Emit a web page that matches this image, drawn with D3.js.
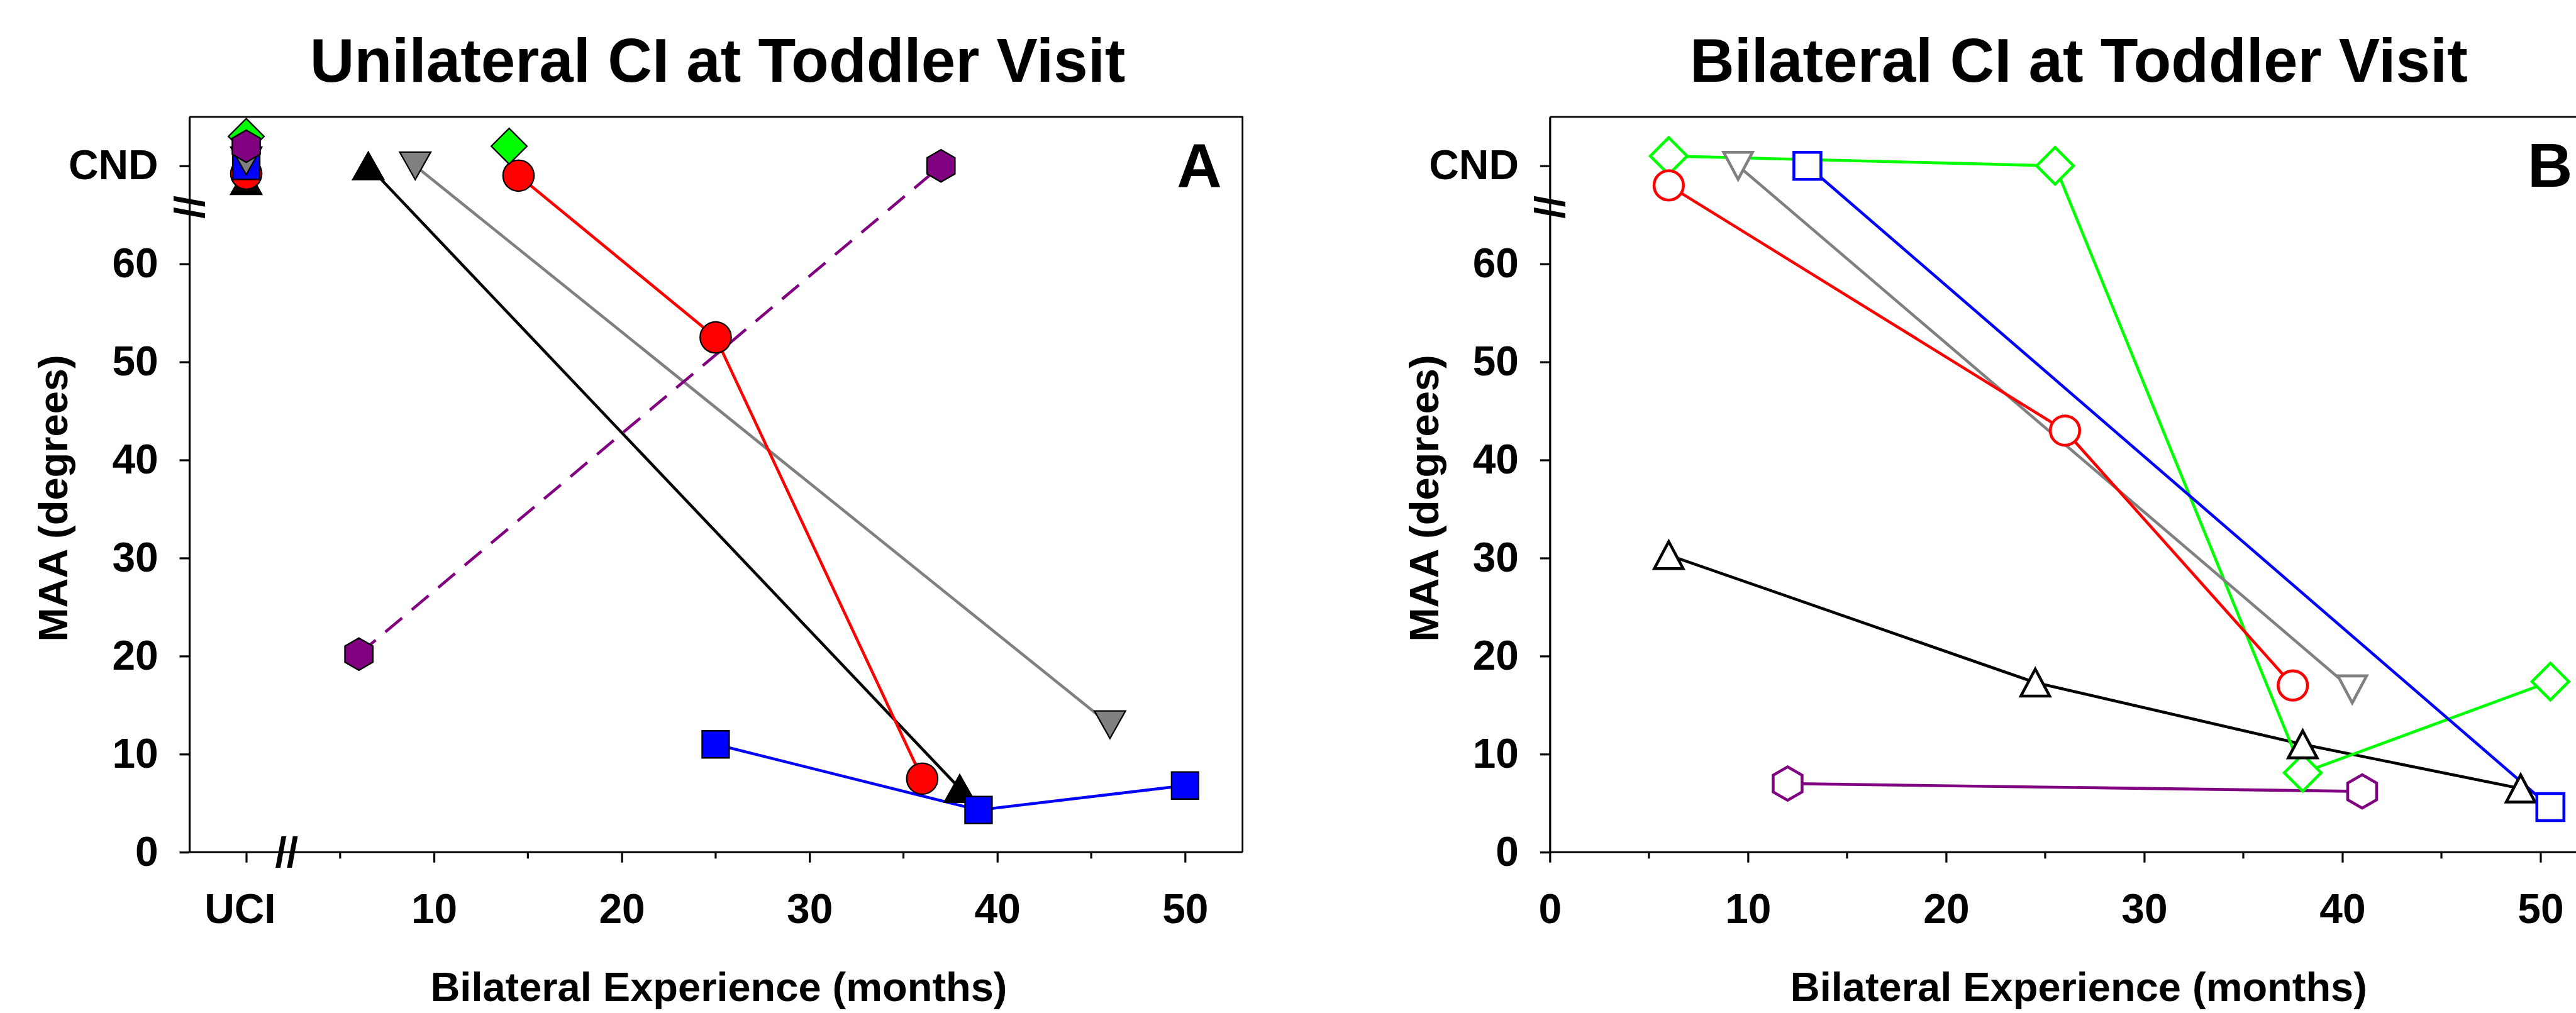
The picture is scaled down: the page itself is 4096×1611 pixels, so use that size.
<!DOCTYPE html>
<html>
<head>
<meta charset="utf-8">
<script src="https://cdn.jsdelivr.net/npm/d3@7"></script>
<style>
    body { margin: 0; background: #fff; }
    svg { display: block; }
    text { font-family: Arial, "Liberation Sans", sans-serif; font-weight: bold; fill: #000; }
</style>
</head>
<body>
<svg id="chart" width="4096" height="1611"></svg>
<script>
// y axis: 0..60 plus "CND" (could not determine), put at 70
const yTickValues = [0, 10, 20, 30, 40, 50, 60, 70];
const cndValue = 70;
const xMajorTicks = [0, 10, 20, 30, 40, 50];
const xMinorTicks = [5, 15, 25, 35, 45];

// panel A: unilateral CI at toddler visit (filled markers)
const aUciMaa = [68.5, 69.2, 70, 70.5, 73, 72]; // black, red, blue, gray, green, purple at "UCI"
const aBlackMonths = [6.5, 38];
const aBlackMaa = [70, 6.5];
const aRedMonths = [14.5, 25, 36];
const aRedMaa = [69, 52.5, 7.5];
const aBlueMonths = [25, 39, 50];
const aBlueMaa = [11, 4.3, 6.8];
const aGrayMonths = [9, 46];
const aGrayMaa = [70, 13];
const aGreenMonths = [14];
const aGreenMaa = [72];
const aPurpleMonths = [6, 37];
const aPurpleMaa = [20.2, 70];

// panel B: bilateral CI at toddler visit (open markers)
const bBlackMonths = [6, 24.5, 38, 49];
const bBlackMaa = [30.3, 17.3, 11, 6.5];
const bRedMonths = [6, 26, 37.5];
const bRedMaa = [68, 43, 17];
const bBlueMonths = [13, 50.5];
const bBlueMaa = [70, 4.6];
const bGrayMonths = [9.5, 40.5];
const bGrayMaa = [70, 16.6];
const bGreenMonths = [6, 25.5, 38, 50.5];
const bGreenMaa = [71, 70, 8.1, 17.4];
const bPurpleMonths = [12, 41];
const bPurpleMaa = [7, 6.2];

const colors = { black: '#000000', red: '#ff0000', blue: '#0000ff', gray: '#808080', green: '#00ff00', purple: '#800080' };
const shapes = { black: 'triUp', red: 'circle', blue: 'square', gray: 'triDown', green: 'diamond', purple: 'hexagon' };

// everything below is laid out in the reference's 4476x1760 pixels, then scaled
const S = 4096 / 4476;
const plotTop = 203, plotBottom = 1481;

const svg = d3.select('#chart');
const root = svg.append('g').attr('transform', `scale(${S})`);

const y = d3.scaleLinear().domain([0, 75]).range([plotBottom, plotTop]);

function markerPath(kind, size) {
    const p = d3.path();
    if (kind === 'circle') {
        p.arc(0, 0, size.r, 0, Math.PI * 2);
    } else if (kind === 'square') {
        p.rect(-size.sq / 2, -size.sq / 2, size.sq, size.sq);
    } else if (kind === 'triUp' || kind === 'triDown') {
        const s = kind === 'triUp' ? 1 : -1;
        p.moveTo(0, -s * size.th / 2);
        p.lineTo(size.tw / 2, s * size.th / 2);
        p.lineTo(-size.tw / 2, s * size.th / 2);
        p.closePath();
    } else if (kind === 'diamond') {
        p.moveTo(0, -size.d); p.lineTo(size.d, 0); p.lineTo(0, size.d); p.lineTo(-size.d, 0);
        p.closePath();
    } else if (kind === 'hexagon') {
        for (let i = 0; i < 6; i++) {
            const a = -Math.PI / 2 + i * Math.PI / 3;
            i === 0 ? p.moveTo(size.h * Math.cos(a), size.h * Math.sin(a))
                    : p.lineTo(size.h * Math.cos(a), size.h * Math.sin(a));
        }
        p.closePath();
    }
    return p.toString();
}

function drawPanel(opts) {
    const { x, x0, x1, g } = opts;

    // frame top and right
    g.append('path')
        .attr('d', `M${x0},${plotTop}H${x1}V${plotBottom}`)
        .attr('fill', 'none').attr('stroke', '#000').attr('stroke-width', 3);

    const yAxis = g.append('g')
        .attr('transform', `translate(${x0},0)`)
        .call(d3.axisLeft(y)
            .tickValues(yTickValues)
            .tickFormat(d => d === cndValue ? 'CND' : d)
            .tickSize(17).tickPadding(37).tickSizeOuter(0));

    const xAxis = g.append('g')
        .attr('transform', `translate(0,${plotBottom})`)
        .call(d3.axisBottom(x)
            .tickValues(xMajorTicks)
            .tickFormat(d => d === 0 ? opts.zeroLabel : d)
            .tickSize(18).tickPadding(54).tickSizeOuter(0));

    xAxis.selectAll('.tick')
        .filter(d => d === 0)
        .select('text')
        .attr('dx', opts.zeroDx);

    g.append('g')
        .selectAll('line')
        .data(xMinorTicks)
        .join('line')
        .attr('x1', d => x(d)).attr('x2', d => x(d))
        .attr('y1', plotBottom).attr('y2', plotBottom + 11)
        .attr('stroke', '#000').attr('stroke-width', 3.5);

    [yAxis, xAxis].forEach(ax => {
        ax.attr('font-size', null).attr('font-family', null);
        ax.selectAll('text').style('font-size', '72px');
        ax.selectAll('line, path').attr('stroke-width', 3.5);
    });
    xAxis.select('.domain').attr('d', `M${x0},0H${x1}`);

    // axis break on the y axis
    g.append('text')
        .attr('transform', `translate(${x0},${y(65.8)}) rotate(90)`)
        .attr('text-anchor', 'middle')
        .attr('dy', '0.35em')
        .style('font-size', '72px')
        .text('//');

    g.append('text')
        .attr('x', (x0 + x1) / 2 + opts.titleDx)
        .attr('y', 142)
        .attr('text-anchor', 'middle')
        .style('font-size', '107px')
        .text(opts.title);

    g.append('text')
        .attr('transform', `translate(${opts.yTitleX},866) rotate(-90)`)
        .attr('text-anchor', 'middle')
        .style('font-size', '71px')
        .text('MAA (degrees)');

    g.append('text')
        .attr('x', (x0 + x1) / 2 + opts.xTitleDx)
        .attr('y', 1740)
        .attr('text-anchor', 'middle')
        .style('font-size', '71px')
        .text('Bilateral Experience (months)');

    g.append('text')
        .attr('x', Math.min(x1 - 36, 4470))
        .attr('y', 325)
        .attr('text-anchor', 'end')
        .style('font-size', '108px')
        .text(opts.letter);
}

function drawSeries(g, x, series, style) {
    const line = d3.line().x(d => x(d[0])).y(d => y(d[1]));

    series.forEach(s => {
        if (s.months.length < 2) return;
        g.append('path')
            .datum(d3.zip(s.months, s.maa))
            .attr('d', line)
            .attr('fill', 'none')
            .attr('stroke', colors[s.name])
            .attr('stroke-width', 5)
            .attr('stroke-dasharray', s.dashed ? '38 22' : null);
    });

    style.order.forEach(name => {
        const s = series.find(d => d.name === name);
        g.append('g')
            .selectAll('path')
            .data(d3.zip(s.months, s.maa))
            .join('path')
            .attr('transform', d => `translate(${x(d[0])},${y(d[1])})`)
            .attr('d', markerPath(shapes[name], style.size))
            .attr('fill', style.filled ? colors[name] : '#fff')
            .attr('stroke', style.filled ? '#000' : colors[name])
            .attr('stroke-width', style.strokeWidth)
            .attr('stroke-linejoin', 'miter');
    });
}

// ---------- panel A ----------
const xA = d3.scaleLinear().domain([-3.03, 53.06]).range([329, 2159]);
const gA = root.append('g');

drawPanel({
    g: gA, x: xA, x0: 329, x1: 2159,
    zeroLabel: 'UCI', zeroDx: -11,
    title: 'Unilateral CI at Toddler Visit', titleDx: 3,
    yTitleX: 117, xTitleDx: 5, letter: 'A'
});

// break on the x axis between UCI and the months
gA.append('text')
    .attr('x', xA(2.15))
    .attr('y', plotBottom)
    .attr('dy', '0.35em')
    .attr('text-anchor', 'middle')
    .style('font-size', '72px')
    .text('//');

const sizeA = { r: 27, sq: 47, tw: 54, th: 48, d: 31, h: 28 };
const namesUci = ['black', 'red', 'blue', 'gray', 'green', 'purple'];

drawSeries(gA, xA, [
    { name: 'black', months: aBlackMonths, maa: aBlackMaa },
    { name: 'gray', months: aGrayMonths, maa: aGrayMaa },
    { name: 'red', months: aRedMonths, maa: aRedMaa },
    { name: 'purple', months: aPurpleMonths, maa: aPurpleMaa, dashed: true },
    { name: 'blue', months: aBlueMonths, maa: aBlueMaa },
    { name: 'green', months: aGreenMonths, maa: aGreenMaa }
], { order: namesUci, size: sizeA, filled: true, strokeWidth: 2.5 });

// UCI column: one marker per child at x = 0
gA.append('g')
    .selectAll('path')
    .data(namesUci)
    .join('path')
    .attr('transform', (d, i) => `translate(${xA(0)},${y(aUciMaa[i])})`)
    .attr('d', d => markerPath(shapes[d], sizeA))
    .attr('fill', d => colors[d])
    .attr('stroke', '#000')
    .attr('stroke-width', 2.5);

// ---------- panel B ----------
const xB = d3.scaleLinear().domain([0, 53.1]).range([2693, 4521]);
const gB = root.append('g');

drawPanel({
    g: gB, x: xB, x0: 2693, x1: 4521,
    zeroLabel: '0', zeroDx: 0,
    title: 'Bilateral CI at Toddler Visit', titleDx: 5,
    yTitleX: 2499, xTitleDx: 5, letter: 'B'
});

drawSeries(gB, xB, [
    { name: 'black', months: bBlackMonths, maa: bBlackMaa },
    { name: 'purple', months: bPurpleMonths, maa: bPurpleMaa },
    { name: 'green', months: bGreenMonths, maa: bGreenMaa },
    { name: 'gray', months: bGrayMonths, maa: bGrayMaa },
    { name: 'red', months: bRedMonths, maa: bRedMaa },
    { name: 'blue', months: bBlueMonths, maa: bBlueMaa }
], { order: ['green', 'black', 'purple', 'gray', 'blue', 'red'],
     size: { r: 25.5, sq: 47, tw: 50, th: 47, d: 32, h: 29 }, filled: false, strokeWidth: 5 });
</script>
</body>
</html>
